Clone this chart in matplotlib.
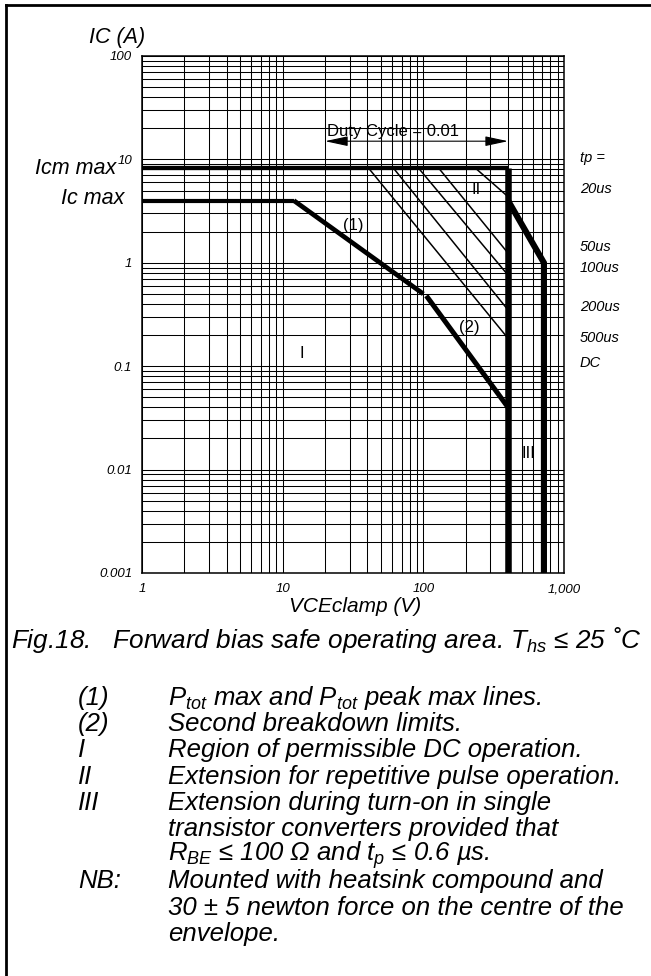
import matplotlib
matplotlib.use('Agg')
import matplotlib.pyplot as plt
from matplotlib.lines import Line2D
from matplotlib.ticker import LogLocator, NullFormatter

plt.rcParams['font.family'] = ['Liberation Sans', 'DejaVu Sans']
plt.rcParams['mathtext.fontset'] = 'custom'
plt.rcParams['mathtext.it'] = 'Liberation Sans:italic'
plt.rcParams['mathtext.rm'] = 'Liberation Sans:italic'
plt.rcParams['mathtext.default'] = 'it'

# ---------------- data ----------------
x_ticks = [1, 10, 100, 1000]
x_tick_labels = ['1', '10', '100', '1,000']
y_ticks = [0.001, 0.01, 0.1, 1, 10, 100]
y_tick_labels = ['0.001', '0.01', '0.1', '1', '10', '100']

icm_v = [1, 400]
icm_i = [8.3, 8.3]
ic_v = [1, 12]
ic_i = [4.0, 4.0]
ptot_v = [12, 100]            # (1)
ptot_i = [4.0, 0.5]
sb_v = [105, 400]             # (2)
sb_i = [0.48, 0.04]
v400_v = [400, 400]
v400_i = [8.3, 0.001]
iii_v = [400, 720, 720]
iii_i = [4.0, 1.0, 0.001]

pulse_start_v = [233, 128, 92, 61, 40.6]
pulse_end_v = [400, 400, 400, 400, 400]
pulse_end_i = [4.36, 1.24, 0.76, 0.35, 0.186]

tp_labels = ['tp =', '20us', '50us', '100us', '200us', '500us', 'DC']
tp_label_i = [10.3, 5.17, 1.42, 0.89, 0.374, 0.187, 0.107]

duty_v = [20, 400]
duty_i = 15

region_labels = ['(1)', '(2)', 'I', 'II', 'III']
region_v = [31.8, 214, 13.6, 239, 557]
region_i = [2.27, 0.235, 0.133, 5.1, 0.0144]

note_keys = ['(1)', '(2)', 'I', 'II', 'III', '', '', 'NB:', '', '']
note_lines = [
    '$P_{tot}$ max and $P_{tot}$ peak max lines.',
    'Second breakdown limits.',
    'Region of permissible DC operation.',
    'Extension for repetitive pulse operation.',
    'Extension during turn-on in single',
    'transistor converters provided that',
    '$R_{BE}$ \u2264 100 \u03a9 and $t_p$ \u2264 0.6 \u00b5s.',
    'Mounted with heatsink compound and',
    '30 \u00b1 5 newton force on the centre of the',
    'envelope.',
]

# ---------------- figure ----------------
W, H = 651, 976
fig = plt.figure(figsize=(W / 100, H / 100), dpi=100)
ax_l, ax_r, ax_t, ax_b = 142, 564, 56, 573
ax = fig.add_axes([ax_l / W, 1 - ax_b / H, (ax_r - ax_l) / W, (ax_b - ax_t) / H])
ax.set_xscale('log')
ax.set_yscale('log')
ax.set_xlim(1, 1000)
ax.set_ylim(0.001, 100)

ax.xaxis.set_minor_locator(LogLocator(base=10, subs=range(2, 10)))
ax.yaxis.set_minor_locator(LogLocator(base=10, subs=range(2, 10)))
ax.xaxis.set_minor_formatter(NullFormatter())
ax.yaxis.set_minor_formatter(NullFormatter())
ax.grid(which='both', color='black', lw=0.75)
ax.set_axisbelow(True)

ax.set_xticks(x_ticks, x_tick_labels)
ax.set_yticks(y_ticks, y_tick_labels)
ax.tick_params(which='both', length=0)
ax.tick_params(axis='x', pad=7.5, labelsize=9.5)
ax.tick_params(axis='y', pad=7, labelsize=9.5)
for lab in ax.get_xticklabels() + ax.get_yticklabels():
    lab.set_fontstyle('italic')
for s in ax.spines.values():
    s.set_linewidth(1.1)

lk = dict(color='black', solid_capstyle='butt', solid_joinstyle='miter')
ax.plot(icm_v, icm_i, lw=3.1, **lk)
ax.plot(ic_v, ic_i, lw=3.0, **lk)
ax.plot(ptot_v, ptot_i, lw=3.4, **lk)
ax.plot(sb_v, sb_i, lw=3.6, **lk)
ax.plot(v400_v, v400_i, lw=4.7, **lk)
ax.plot(iii_v, iii_i, lw=4.4, **lk)
for sv, ev, ei in zip(pulse_start_v, pulse_end_v, pulse_end_i):
    ax.plot([sv, ev], [icm_i[0], ei], lw=1.1, **lk)

for lab, yi in zip(tp_labels, tp_label_i):
    ax.text(1300, yi, lab, ha='left', va='center', fontsize=10.5, fontstyle='italic', clip_on=False)

ax.annotate('', xy=(duty_v[0], duty_i), xytext=(duty_v[1], duty_i),
            arrowprops=dict(arrowstyle='<|-|>,head_length=1.4,head_width=0.3',
                            lw=0.8, color='black', shrinkA=0, shrinkB=0, mutation_scale=10))
ax.text(61, 18.5, 'Duty Cycle = 0.01', ha='center', va='center', fontsize=12)

for lab, xv, yv in zip(region_labels, region_v, region_i):
    ax.text(xv, yv, lab, ha='center', va='center', fontsize=12)

# ---------------- outside text ----------------
def fx(px):
    return px / W

def fy(py):
    return 1 - py / H

fig.text(fx(117), fy(38), 'IC (A)', ha='center', va='center', fontsize=15.5, fontstyle='italic')
fig.text(fx(116), fy(168), 'Icm max', ha='right', va='center', fontsize=15.5, fontstyle='italic')
fig.text(fx(124), fy(199), 'Ic max', ha='right', va='center', fontsize=15.5, fontstyle='italic')
fig.text(fx(355), fy(606), 'VCEclamp (V)', ha='center', va='center', fontsize=15, fontstyle='italic')

fig.text(fx(11), fy(640), 'Fig.18.   Forward bias safe operating area. $T_{hs}$ \u2264 25 \u02daC',
         ha='left', va='center', fontsize=18.8, fontstyle='italic')

y0, dy = 698, 26.2
for k, (key, line) in enumerate(zip(note_keys, note_lines)):
    yy = fy(y0 + k * dy)
    if key:
        fig.text(fx(78), yy, key, ha='left', va='center', fontsize=18.5, fontstyle='italic')
    fig.text(fx(168), yy, line, ha='left', va='center', fontsize=18.5, fontstyle='italic')

# frame (left and top border)
fig.add_artist(Line2D([fx(6), fx(6)], [fy(5), fy(976)], color='black', lw=2.0, transform=fig.transFigure))
fig.add_artist(Line2D([fx(6), fx(651)], [fy(5), fy(5)], color='black', lw=2.0, transform=fig.transFigure))

fig.savefig('out.png', dpi=100)
